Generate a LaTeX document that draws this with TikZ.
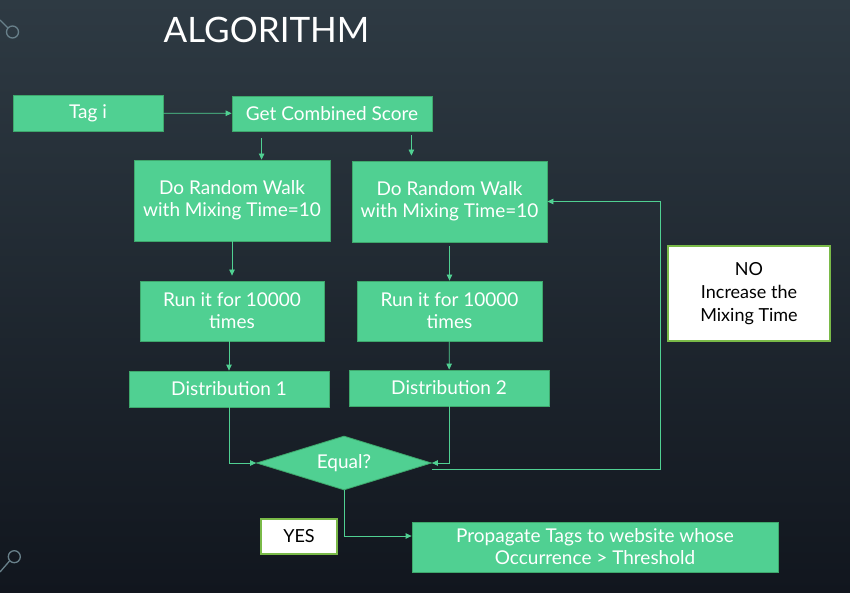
\documentclass[tikz,border=0pt]{standalone}
\usepackage{fontspec}
\setmainfont{Lato}
\usetikzlibrary{shapes.geometric, arrows.meta, positioning, calc}
\definecolor{slidetop}{RGB}{46,58,67}
\definecolor{slidebot}{RGB}{17,22,30}
\definecolor{boxgreen}{RGB}{80,208,146}
\definecolor{boxedge}{RGB}{62,168,108}
\definecolor{noteedge}{RGB}{122,186,72}
\definecolor{ringgray}{RGB}{104,128,138}

\begin{document}
\begin{tikzpicture}[x=1pt, y=-1pt,
		box/.style={draw=boxedge, fill=boxgreen, line width=0.8pt, text=white, align=center, inner sep=2pt, font=\fontsize{19}{22}\selectfont},
		note/.style={draw=noteedge, fill=white, line width=1.2pt, text=black, align=center, inner sep=2pt, font=\fontsize{18}{23}\selectfont},
		decision/.style={diamond, draw=boxedge, fill=boxgreen, line width=0.8pt, text=white, inner sep=0pt, aspect=3.2, minimum width=175pt, minimum height=54pt, font=\fontsize{19}{22}\selectfont},
		flow/.style={draw=boxgreen, line width=0.8pt, -{Triangle[length=6pt,width=5.5pt]}}]
	
	% slide background
	\shade[top color=slidetop, bottom color=slidebot] (0,0) rectangle (850,593);
	\useasboundingbox (0,0) rectangle (850,593);
	
	% corner rings
	\draw[ringgray, line width=1.3pt] (0,20) -- (8,28);
	\draw[ringgray, line width=1.3pt] (12.5,32) circle (6);
	\draw[ringgray, line width=1.3pt] (0,572) -- (9.5,561);
	\draw[ringgray, line width=1.3pt] (14.3,556.7) circle (6);
	
	% title
	\node[text=white, anchor=base, font=\fontsize{35}{40}\selectfont] (title) at (266.5,43) {ALGORITHM};
	
	% boxes
	\node[box, minimum width=150pt, minimum height=36pt] (tag) at (88,113) {Tag i};
	\node[box, minimum width=200pt, minimum height=35pt] (score) at (332,113.5) {Get Combined Score};
	\node[box, minimum width=196pt, minimum height=81pt] (walka) at (232,200.5) {Do Random Walk\\with Mixing Time=10};
	\node[box, minimum width=195pt, minimum height=81pt] (walkb) at (449.5,201.5) {Do Random Walk\\with Mixing Time=10};
	\node[box, minimum width=184pt, minimum height=60pt] (runa) at (232,311) {Run it for 10000\\times};
	\node[box, minimum width=185pt, minimum height=60pt] (runb) at (449.5,311) {Run it for 10000\\times};
	\node[box, minimum width=200pt, minimum height=36pt] (dista) at (229,389) {Distribution 1};
	\node[box, minimum width=200pt, minimum height=36pt] (distb) at (449,388) {Distribution 2};
	\node[decision] (equal) at (344,463) {Equal?};
	\node[box, minimum width=366pt, minimum height=50pt] (spread) at (595,547) {Propagate Tags to website whose\\Occurrence > Threshold};
	
	% answers
	\node[note, minimum width=76pt, minimum height=35pt] (yes) at (299,536.5) {YES};
	\node[note, minimum width=162pt, minimum height=95pt] (no) at (749,293.5) {NO\\Increase the\\Mixing Time};
	
	% arrows
	\coordinate (loop) at (660,469);
	\draw[flow] (tag) -- (score);
	\draw[flow] ([xshift=30pt,yshift=-7pt]score.south west) -- ([xshift=30pt]score.south west |- walka.north);
	\draw[flow, shorten >=5pt] ([xshift=-21pt,yshift=-4pt]score.south east) -- ([xshift=-21pt]score.south east |- walkb.north);
	\draw[flow, shorten >=5pt] (walka) -- (runa);
	\draw[flow, shorten <=4pt] (walkb) -- (runb);
	\draw[flow] (dista.north |- runa.south) -- (dista.north);
	\draw[flow] (runb) -- (distb);
	\draw[flow] (dista.south) |- (equal.west);
	\draw[flow] (distb.south) |- (equal.east);
	\draw[flow] ([yshift=-6pt]equal.east) -- (loop) |- (walkb.east);
	\draw[flow] (equal.south) |- ([yshift=11pt]spread.west);
	
\end{tikzpicture}
\end{document}
